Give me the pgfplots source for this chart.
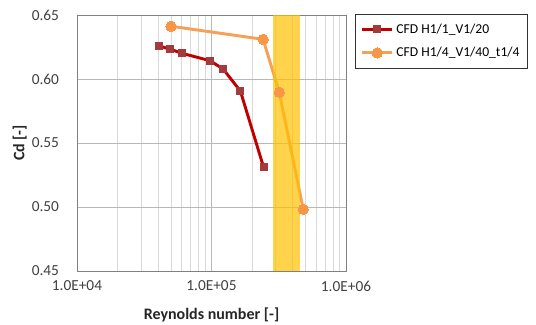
\documentclass[border=0pt]{standalone}
\usepackage{fontspec}
\setmainfont{Carlito}
\usepackage{pgfplots}
\pgfplotsset{compat=1.18}
\definecolor{cfdred}{HTML}{C00000}
\definecolor{cfdredmk}{HTML}{A53A3C}
\definecolor{cfdor}{HTML}{F8A055}
\definecolor{cfdormk}{HTML}{F79646}
\definecolor{band}{HTML}{FFC000}
\begin{document}
\begin{tikzpicture}
\useasboundingbox (0,0) rectangle (402pt,243.75pt);
\begin{axis}[
  at={(57.75pt,40.5pt)}, anchor=south west,
  scale only axis, width=201.75pt, height=192pt,
  xmode=log, xmin=1e4, xmax=1e6, ymin=0.45, ymax=0.65,
  xtick={1e4,1e5,1e6}, xticklabels={1.0E+04,1.0E+05,1.0E+06},
  ytick={0.45,0.50,0.55,0.60,0.65},
  yticklabel style={/pgf/number format/fixed, /pgf/number format/fixed zerofill, /pgf/number format/precision=2, xshift=-10pt},
  /pgf/number format/assume math mode=true,
  tick label style={font=\fontsize{11.5}{13}\selectfont, text=black!75},
  xticklabel style={yshift=-4pt},
  major tick length=0pt, minor tick length=0pt,
  grid=both,
  major grid style={draw=black!28, line width=0.6pt},
  minor grid style={draw=black!15, line width=0.6pt},
  minor x tick num=8,
  axis line style={draw=black!50, line width=0.6pt},
  xlabel={\textbf{Reynolds number [-]}},
  ylabel={\textbf{Cd [-]}},
  label style={font=\fontsize{12}{14}\selectfont, text=black!85},
  xlabel style={yshift=-5pt},
  ylabel style={yshift=-3pt},
  legend style={at={(1.0335,1.004)}, anchor=north west, draw=black!80, line width=0.6pt,
    font=\fontsize{10.2}{12}\selectfont, row sep=5pt, inner xsep=4pt, inner ysep=5pt,
    cells={anchor=west}},
  legend image code/.code={\draw[mark repeat=2,mark phase=2] plot coordinates {(0pt,0pt)(11.25pt,0pt)(22.5pt,0pt)};},
]
\addplot[color=cfdred, line width=2.2pt, mark=square*, mark size=2.6pt,
  mark options={fill=cfdredmk, draw=cfdredmk, line width=0pt}] coordinates {
  (4.07e4,0.6258) (4.89e4,0.6234) (6.07e4,0.6200) (9.75e4,0.6143)
  (1.22e5,0.6078) (1.64e5,0.5906) (2.44e5,0.5310)};
\addlegendentry{CFD H1/1\_V1/20}
\addplot[color=cfdor, line width=2.2pt, mark=*, mark size=3.9pt,
  mark options={fill=cfdormk, draw=cfdormk, line width=0pt}] coordinates {
  (5.0e4,0.6412) (2.42e5,0.6310) (3.19e5,0.5896) (4.81e5,0.4982)};
\addlegendentry{CFD H1/4\_V1/40\_t1/4}
\addplot[fill=band, fill opacity=0.7, draw=none, forget plot] coordinates {
  (2.85e5,0.45) (4.55e5,0.45) (4.55e5,0.65) (2.85e5,0.65)} -- cycle;
\end{axis}
\end{tikzpicture}
\end{document}
